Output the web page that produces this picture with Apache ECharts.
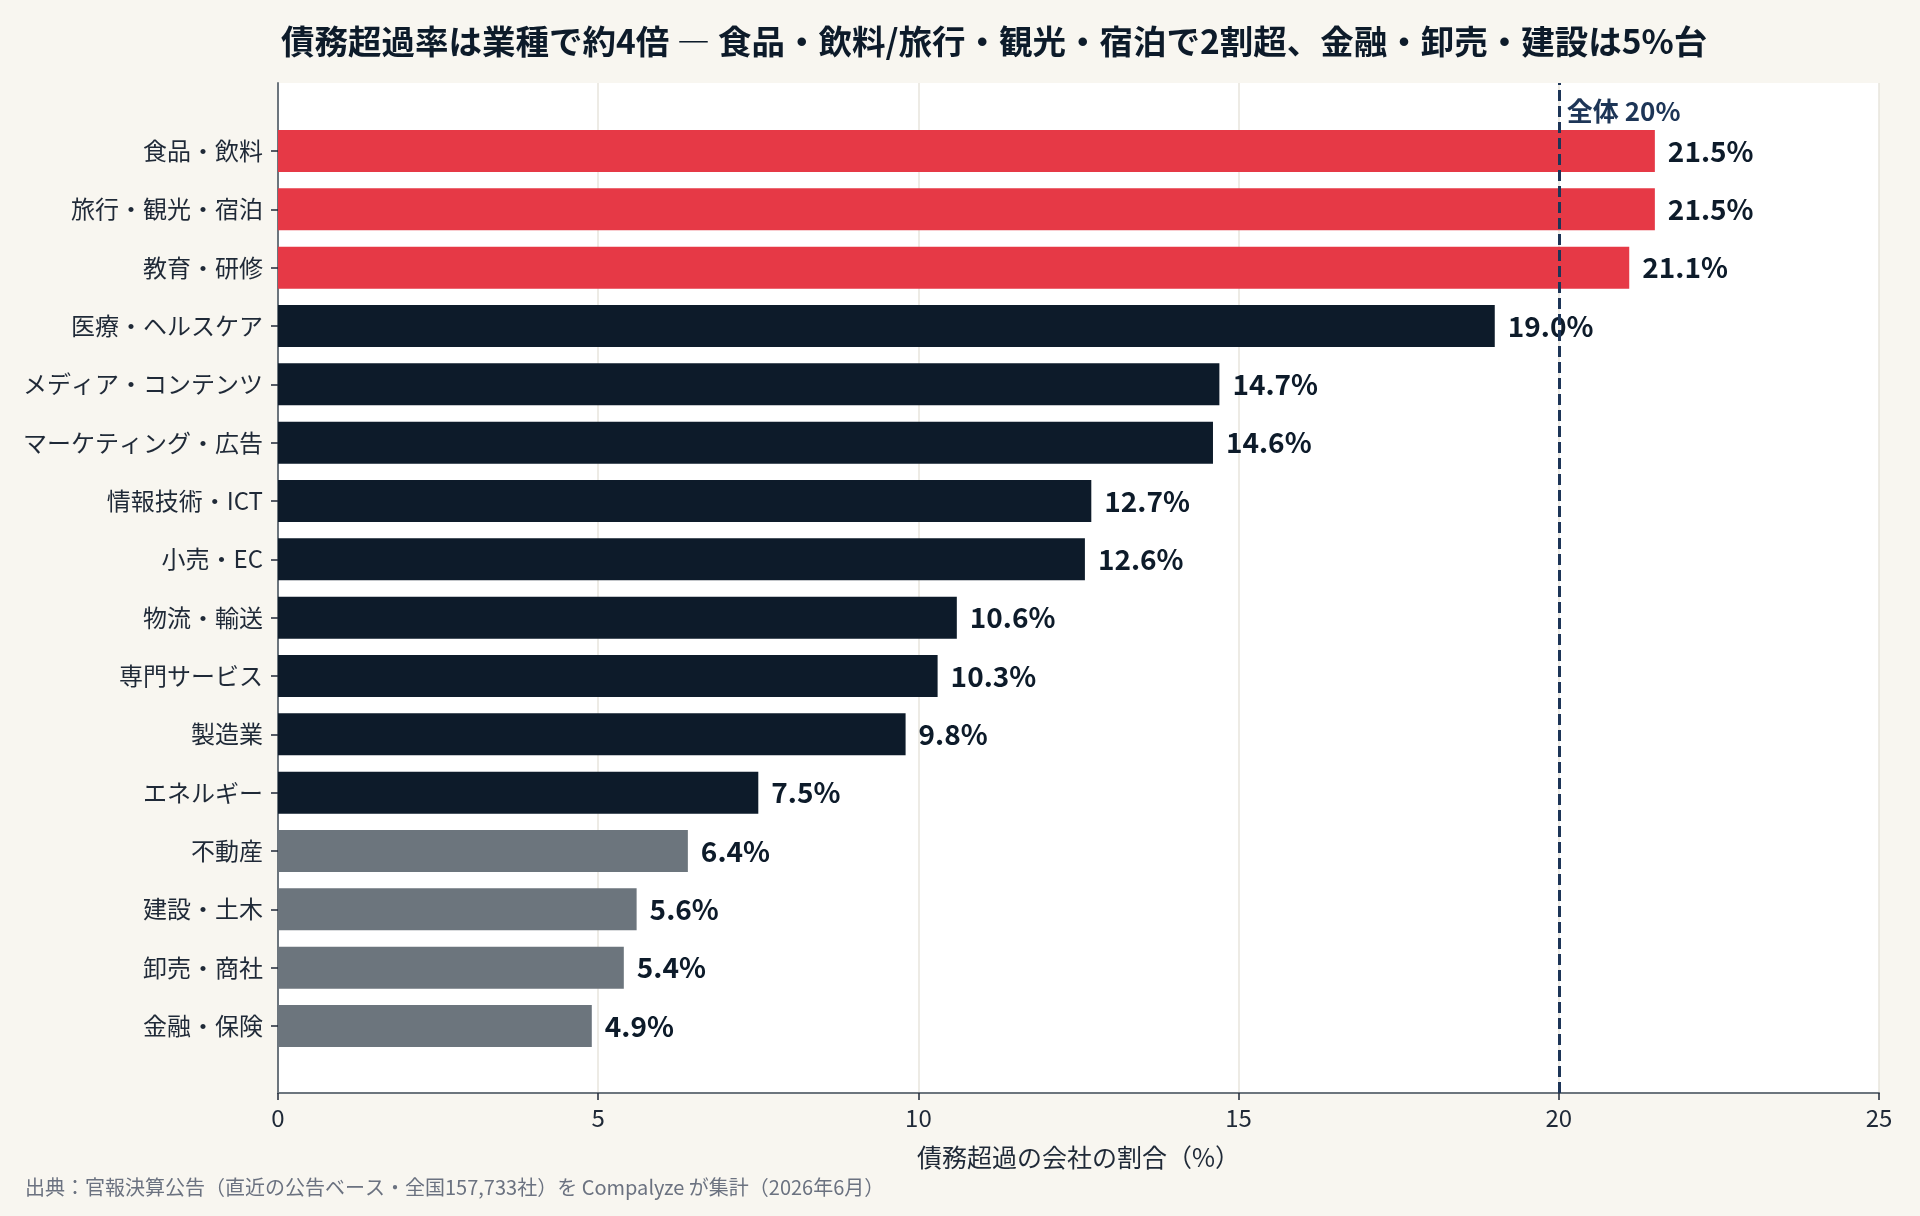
<!DOCTYPE html>
<html>
<head>
<meta charset="utf-8">
<script src="https://cdn.jsdelivr.net/npm/echarts@6/dist/echarts.min.js"></script>
<style>
  html, body { margin: 0; padding: 0; background: #f8f6f0; }
  #main { width: 1920px; height: 1216px; }
</style>
</head>
<body>
<div id="main"></div>
<script>
// 業種（上から順）
var categories = ['食品・飲料','旅行・観光・宿泊','教育・研修','医療・ヘルスケア','メディア・コンテンツ',
    'マーケティング・広告','情報技術・ICT','小売・EC','物流・輸送','専門サービス','製造業',
    'エネルギー','不動産','建設・土木','卸売・商社','金融・保険'];
// 債務超過の会社の割合（%）
var values = [21.5, 21.5, 21.1, 19.0, 14.7, 14.6, 12.7, 12.6, 10.6, 10.3, 9.8, 7.5, 6.4, 5.6, 5.4, 4.9];
// 色分けグループ
var groups = ['high','high','high','mid','mid','mid','mid','mid','mid','mid','mid','mid','low','low','low','low'];
var overall = 20;
var xTicks = [0, 5, 10, 15, 20, 25];

var colorMap = {high: '#e63946', mid: '#0d1b2a', low: '#6c757d'};
var font = '"Noto Sans CJK JP", "Noto Sans", sans-serif';

var barData = values.map(function(v, i){
    return {value: v, itemStyle: {color: colorMap[groups[i]]}};
});

var myChart = echarts.init(document.getElementById('main'));
var option = {
    backgroundColor: '#f8f6f0',
    textStyle: {fontFamily: font},
    title: [
        {
            text: '債務超過率は業種で約4倍 ― 食品・飲料/旅行・観光・宿泊で2割超、金融・卸売・建設は5%台',
            left: 276, top: 20,
            textStyle: {fontFamily: font, fontSize: 33.5, fontWeight: 'bold', color: '#0d1b2a'}
        },
        {
            text: '出典：官報決算公告（直近の公告ベース・全国157,733社）を Compalyze が集計（2026年6月）',
            left: 20, top: 1172,
            textStyle: {fontFamily: font, fontSize: 20, fontWeight: 'normal', color: '#6b7280'}
        }
    ],
    grid: [
        {left: 278, right: 41, top: 121.8, bottom: 160.8, containLabel: false},
        {left: 278, right: 41, top: 83, bottom: 123, show: true, backgroundColor: '#ffffff', borderWidth: 0, containLabel: false}
    ],
    xAxis: [
        {gridIndex: 0, type: 'value', min: xTicks[0], max: xTicks[xTicks.length-1], show: false},
        {
            gridIndex: 1, type: 'value', min: xTicks[0], max: xTicks[xTicks.length-1], interval: 5,
            name: '債務超過の会社の割合（%）', nameLocation: 'middle', nameGap: 52,
            nameTextStyle: {fontSize: 25, color: '#1f2937', fontFamily: font},
            axisLine: {show: true, lineStyle: {color: '#6c757d', width: 2}},
            axisTick: {show: true, length: 7, lineStyle: {color: '#1f2937', width: 1.5}},
            axisLabel: {fontSize: 24, color: '#1f2937', margin: 13, fontFamily: font},
            splitLine: {show: true, lineStyle: {color: '#e7e4dc', width: 1.5}}
        }
    ],
    yAxis: [
        {
            gridIndex: 0, type: 'category', inverse: true, data: categories,
            axisLine: {show: false},
            axisTick: {show: true, alignWithLabel: true, length: 7, lineStyle: {color: '#1f2937', width: 1.5}},
            axisLabel: {fontSize: 24, color: '#1f2937', margin: 15, fontFamily: font},
            splitLine: {show: false}
        },
        {
            gridIndex: 1, type: 'value', min: 0, max: 1,
            axisLine: {show: true, lineStyle: {color: '#6c757d', width: 2}},
            axisTick: {show: false}, axisLabel: {show: false}, splitLine: {show: false}
        }
    ],
    series: [
        {
            type: 'bar', xAxisIndex: 0, yAxisIndex: 0, z: 3,
            data: barData,
            barWidth: '72%',
            label: {
                show: true, position: 'right', distance: 13,
                formatter: function(p){ return p.value.toFixed(1) + '%'; },
                fontSize: 28, fontWeight: 'bold', color: '#0d1b2a', fontFamily: font
            }
        },
        {
            type: 'scatter', xAxisIndex: 1, yAxisIndex: 1, z: 2,
            symbolSize: 0,
            itemStyle: {opacity: 1},
            data: [[overall, 0.972]],
            label: {
                show: true, position: 'right', distance: 8,
                formatter: '全体 ' + overall + '%',
                fontSize: 26, fontWeight: 'bold', color: '#1d3557', fontFamily: font
            },
            markLine: {
                silent: true, symbol: 'none',
                label: {show: false},
                lineStyle: {color: '#1d3557', width: 3, type: [11, 5], opacity: 1},
                data: [{xAxis: overall}]
            }
        }
    ]
};
myChart.setOption(option);
</script>
</body>
</html>
